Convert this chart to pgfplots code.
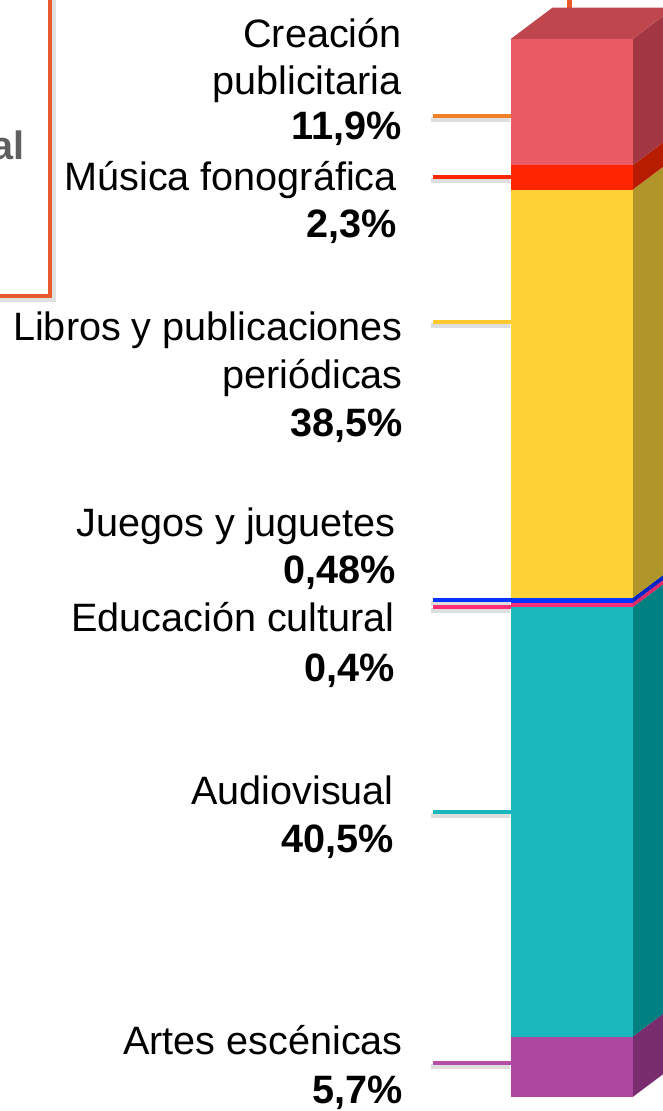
\documentclass[border=0pt]{standalone}
\usepackage{pgfplots}
\pgfplotsset{compat=1.18}
\usepackage{fontspec}
\setmainfont{Liberation Sans}
\definecolor{cCrea}{HTML}{EA5A65}
\definecolor{cCreaS}{HTML}{A23743}
\definecolor{cCreaT}{HTML}{BF464D}
\definecolor{cMus}{HTML}{FF2600}
\definecolor{cMusS}{HTML}{B71C00}
\definecolor{cLib}{HTML}{FDD236}
\definecolor{cLibS}{HTML}{B0952B}
\definecolor{cJue}{HTML}{0433FF}
\definecolor{cJueS}{HTML}{0326C4}
\definecolor{cEdu}{HTML}{FF2D78}
\definecolor{cEduS}{HTML}{E0286A}
\definecolor{cAud}{HTML}{1AB7BD}
\definecolor{cAudS}{HTML}{008080}
\definecolor{cArt}{HTML}{AE479F}
\definecolor{cArtS}{HTML}{7A2D6E}
\definecolor{cLCrea}{HTML}{F07F26}
\definecolor{cLLib}{HTML}{FDC82F}
\definecolor{cLArt}{HTML}{B44EA6}
\definecolor{cBox}{HTML}{E8592B}
\definecolor{cGrey}{HTML}{5F5F5F}
\begin{document}
\begin{tikzpicture}[x=1pt,y=1pt]
\useasboundingbox (0,0) rectangle (663,1111);
\clip (0,0) rectangle (663,1111);
% decorations and 3D faces (pixel axis)
\begin{axis}[at={(0,0)}, anchor=south west, scale only axis,
  width=663pt, height=1111pt, xmin=0, xmax=663, ymin=0, ymax=1111,
  axis lines=none, clip=true]
% left box with shadow
\addplot[draw=black, opacity=0.12, line width=5pt] coordinates {(53,1200) (53,811) (-60,811)};
\addplot[draw=cBox, line width=4pt] coordinates {(50,1200) (50,815) (-60,815)};
% orange connector at top
\addplot[draw=cBox, line width=5pt] coordinates {(569,1120) (569,1100)};
% leader line shadows
\pgfplotsinvokeforeach{995,934,789,504,299,48}{
  \addplot[draw=black, opacity=0.13, line width=5pt] coordinates {(431,#1-3.5) (510,#1-3.5)};
}
\addplot[draw=black, opacity=0.13, line width=5pt] coordinates {(431,507.5) (510,507.5)};
% leader lines
\addplot[draw=cLCrea, line width=4.5pt] coordinates {(433,995) (510.7,995)};
\addplot[draw=cMus, line width=4.5pt] coordinates {(433,934) (510.7,934)};
\addplot[draw=cLLib, line width=4.5pt] coordinates {(433,789) (510.7,789)};
\addplot[draw=cJue, line width=4.5pt] coordinates {(433,511) (510.7,511)};
\addplot[draw=cEdu, line width=4.5pt] coordinates {(433,504) (510.7,504)};
\addplot[draw=cAud, line width=4.5pt] coordinates {(433,299) (510.7,299)};
\addplot[draw=cLArt, line width=4.5pt] coordinates {(433,48) (510.7,48)};
% side faces
\addplot[fill=cArtS, draw=none] coordinates {(632.7,14) (674.7,45.5) (674.7,105.94) (632.7,74.44)} -- cycle;
\addplot[fill=cAudS, draw=none] coordinates {(632.7,74.44) (674.7,105.94) (674.7,535.36) (632.7,503.86)} -- cycle;
\addplot[fill=cEduS, draw=none] coordinates {(632.7,503.86) (674.7,535.36) (674.7,539.6) (632.7,508.1)} -- cycle;
\addplot[fill=cJueS, draw=none] coordinates {(632.7,508.1) (674.7,539.6) (674.7,544.69) (632.7,513.19)} -- cycle;
\addplot[fill=cLibS, draw=none] coordinates {(632.7,513.19) (674.7,544.69) (674.7,952.9) (632.7,921.4)} -- cycle;
\addplot[fill=cMusS, draw=none] coordinates {(632.7,921.4) (674.7,952.9) (674.7,977.29) (632.7,945.79)} -- cycle;
\addplot[fill=cCreaS, draw=none] coordinates {(632.7,945.79) (674.7,977.29) (674.7,1103.46) (632.7,1071.96)} -- cycle;
% top face
\addplot[fill=cCreaT, draw=none] coordinates {(510.7,1071.96) (552.7,1103.46) (674.7,1103.46) (632.7,1071.96)} -- cycle;
\end{axis}
% stacked bar (percent axis)
\begin{axis}[at={(0,0)}, anchor=south west, scale only axis,
  width=663pt, height=1111pt, xmin=0, xmax=663, ymin=-1.3204, ymax=103.461,
  axis lines=none, clip=true, ybar stacked, bar width=122pt]
\addplot[fill=cArt, draw=none] coordinates {(571.7,5.7)};
\addplot[fill=cAud, draw=none] coordinates {(571.7,40.5)};
\addplot[fill=cEdu, draw=none] coordinates {(571.7,0.4)};
\addplot[fill=cJue, draw=none] coordinates {(571.7,0.48)};
\addplot[fill=cLib, draw=none] coordinates {(571.7,38.5)};
\addplot[fill=cMus, draw=none] coordinates {(571.7,2.3)};
\addplot[fill=cCrea, draw=none] coordinates {(571.7,11.9)};
\end{axis}
% labels
\begingroup
\fontsize{39.6}{47}\selectfont
\node[anchor=base east, inner sep=0] at (402,1063) {Creación};
\node[anchor=base east, inner sep=0] at (402,1016) {publicitaria};
\node[anchor=base east, inner sep=0] at (402,971) {\bfseries 11,9\%};
\node[anchor=base east, inner sep=0] at (397,920) {Música fonográfica};
\node[anchor=base east, inner sep=0] at (397,873) {\bfseries 2,3\%};
\node[anchor=base east, inner sep=0] at (403,770) {Libros y publicaciones};
\node[anchor=base east, inner sep=0] at (403,722) {periódicas};
\node[anchor=base east, inner sep=0] at (403,674) {\bfseries 38,5\%};
\node[anchor=base east, inner sep=0] at (396,574) {Juegos y juguetes};
\node[anchor=base east, inner sep=0] at (396,527) {\bfseries 0,48\%};
\node[anchor=base east, inner sep=0] at (395,479) {Educación cultural};
\node[anchor=base east, inner sep=0] at (395,429) {\bfseries 0,4\%};
\node[anchor=base east, inner sep=0] at (394,306) {Audiovisual};
\node[anchor=base east, inner sep=0] at (394,258) {\bfseries 40,5\%};
\node[anchor=base east, inner sep=0] at (403,56) {Artes escénicas};
\node[anchor=base east, inner sep=0] at (403,8) {\bfseries 5,7\%};
\node[anchor=base east, inner sep=0, text=cGrey] at (25,951) {\bfseries al};
\endgroup
\end{tikzpicture}
\end{document}
